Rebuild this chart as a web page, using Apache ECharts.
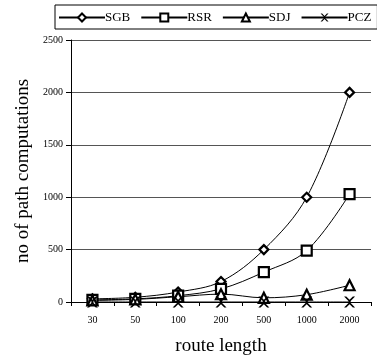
<!DOCTYPE html>
<html>
<head>
<meta charset="utf-8">
<script src="https://cdn.jsdelivr.net/npm/echarts@6/dist/echarts.min.js"></script>
<style>
html, body { margin: 0; padding: 0; background: #fff; }
#main { width: 377px; height: 357px; }
</style>
</head>
<body>
<div id="main"></div>
<script>
// categories (route length)
const routeLengths = ['30', '50', '100', '200', '500', '1000', '2000'];
// no of path computations per method
const sgbValues = [30, 45, 95, 195, 500, 1000, 2000];
const rsrValues = [20, 30, 60, 125, 285, 490, 1030];
const sdjValues = [15, 25, 50, 75, 40, 70, 160];
const pczValues = [0, 0, 0, 0, 0, 0, 0];
const yTicks = [0, 500, 1000, 1500, 2000, 2500];

const crossPath = 'path://M0,0 L2,0 L5,3 L8,0 L10,0 L6,4 L6,6 L10,10 L8,10 L5,7 L2,10 L0,10 L4,6 L4,4 Z';

const chart = echarts.init(document.getElementById('main'));
const serif = 'Liberation Serif';

function makeSeries(name, data, symbol, size) {
    const isCross = symbol === crossPath;
    return {
        name,
        type: 'line',
        data,
        smooth: 0.35,
        symbol,
        symbolSize: size,
        showAllSymbol: true,
        lineStyle: { color: '#000', width: 1 },
        itemStyle: { color: isCross ? '#000' : '#fff', borderColor: '#000', borderWidth: isCross ? 0 : 2.2 },
        emphasis: { disabled: true }
    };
}

chart.setOption({
    backgroundColor: '#ffffff',
    animation: false,
    legend: {
        left: 55,
        top: 5,
        width: 340,
        padding: [6, 6, 5, 3],
        itemGap: 10,
        itemWidth: 46,
        itemHeight: 10,
        borderColor: '#000',
        borderWidth: 1,
        textStyle: { fontFamily: serif, fontSize: 13, color: '#000', padding: [0, 0, 0, -5] },
        data: ['SGB', 'RSR', 'SDJ', 'PCZ']
    },
    grid: { left: 71, right: 6, top: 40, bottom: 55, outerBoundsMode: 'none' },
    xAxis: {
        type: 'category',
        data: routeLengths,
        boundaryGap: true,
        name: 'route length',
        nameLocation: 'middle',
        nameGap: 35,
        nameTextStyle: { fontFamily: serif, fontSize: 19, color: '#000' },
        axisLine: { lineStyle: { color: '#000', width: 1 } },
        axisTick: { show: true, length: 4, inside: false, lineStyle: { color: '#000' } },
        axisLabel: { fontFamily: serif, fontSize: 10, color: '#000', margin: 13 },
        splitLine: { show: false }
    },
    yAxis: {
        type: 'value',
        min: yTicks[0],
        max: yTicks[yTicks.length - 1],
        interval: 500,
        name: 'no of path computations',
        nameLocation: 'middle',
        nameGap: 37,
        nameTextStyle: { fontFamily: serif, fontSize: 19, color: '#000' },
        axisLine: { show: true, lineStyle: { color: '#000', width: 1 } },
        axisTick: { show: true, length: 5, lineStyle: { color: '#000' } },
        axisLabel: { fontFamily: serif, fontSize: 10, color: '#000', margin: 8, formatter: v => String(v) },
        splitLine: { show: true, lineStyle: { color: '#555', width: 1 } }
    },
    series: [
        makeSeries('SGB', sgbValues, 'diamond', 9),
        makeSeries('RSR', rsrValues, 'rect', 10),
        makeSeries('SDJ', sdjValues, 'triangle', 10),
        makeSeries('PCZ', pczValues, crossPath, 11)
    ]
});
</script>
</body>
</html>
